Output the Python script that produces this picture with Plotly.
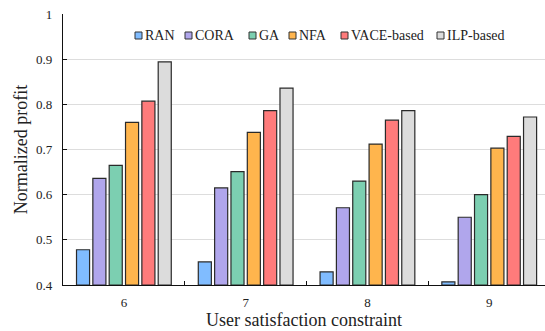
import plotly.graph_objects as go

categories = ["6", "7", "8", "9"]
series_names = ["RAN", "CORA", "GA", "NFA", "VACE-based", "ILP-based"]
ran = [0.478, 0.451, 0.429, 0.407]
cora = [0.636, 0.615, 0.571, 0.550]
ga = [0.665, 0.651, 0.630, 0.600]
nfa = [0.760, 0.738, 0.712, 0.703]
vace = [0.807, 0.786, 0.765, 0.729]
ilp = [0.894, 0.836, 0.786, 0.772]
y_ticks = [0.4, 0.5, 0.6, 0.7, 0.8, 0.9, 1.0]
y_tick_labels = ["0.4", "0.5", "0.6", "0.7", "0.8", "0.9", "1"]

colors = ["#80bcff", "#b0a6ec", "#7ccfb1", "#ffb54d", "#ff7b7b", "#dcdcdc"]
values = [ran, cora, ga, nfa, vace, ilp]

font_family = "Liberation Serif"

W, H = 545, 331
ML, MR, MT, MB = 63, 0, 14, 46
PW, PH = W - ML - MR, H - MT - MB

fig = go.Figure()
for name, vals, col in zip(series_names, values, colors):
    fig.add_trace(go.Bar(
        x=categories, y=[v - 0.4 for v in vals], base=0.4, name=name,
        marker=dict(color=col, line=dict(color="#2a2a2a", width=1.2)),
    ))

# manual legend (square + label), positioned in pixels of the figure
legend_px = [135, 185, 249, 289, 341, 437]
sq = 7
sq_top, sq_bot = 32, 39
shapes = []
annotations = []
for name, col, px in zip(series_names, colors, legend_px):
    shapes.append(dict(
        type="rect", xref="paper", yref="paper",
        x0=(px - ML) / PW, x1=(px + sq - ML) / PW,
        y0=(H - MB - sq_bot) / PH, y1=(H - MB - sq_top) / PH,
        fillcolor=col, line=dict(color="#333", width=1),
    ))
    annotations.append(dict(
        text=name, xref="paper", yref="paper",
        x=(px + sq + 0.5 - ML) / PW, y=(H - MB - (sq_top + sq_bot) / 2) / PH,
        xanchor="left", yanchor="middle", showarrow=False,
        font=dict(size=14, family=font_family, color="#222"),
    ))

fig.update_layout(
    width=W, height=H,
    margin=dict(l=ML, r=MR, t=MT, b=MB),
    paper_bgcolor="white", plot_bgcolor="white",
    barmode="group", bargap=0.195, bargroupgap=0.2,
    font=dict(family=font_family, size=13, color="#222"),
    showlegend=False,
    shapes=shapes, annotations=annotations,
)
fig.update_xaxes(
    type="category", range=[-0.5, 3.458],
    showline=True, linecolor="#111", linewidth=1.2,
    ticks="inside", ticklen=4, tickcolor="#111", tickson="boundaries",
    showgrid=False,
    title=dict(text="User satisfaction constraint", font=dict(size=18, family=font_family), standoff=4),
    tickfont=dict(size=13, family=font_family),
    ticklabelstandoff=5,
)
fig.update_yaxes(
    range=[0.4, 1.0], tickvals=y_ticks, ticktext=y_tick_labels,
    showline=True, linecolor="#111", linewidth=1.2,
    ticks="inside", ticklen=4, tickcolor="#111",
    showgrid=True, gridcolor="#dddddd", gridwidth=1,
    zeroline=False,
    title=dict(text="Normalized profit", font=dict(size=18, family=font_family), standoff=3),
    tickfont=dict(size=13, family=font_family),
    ticklabelstandoff=7,
)

fig.write_html("out.html")
